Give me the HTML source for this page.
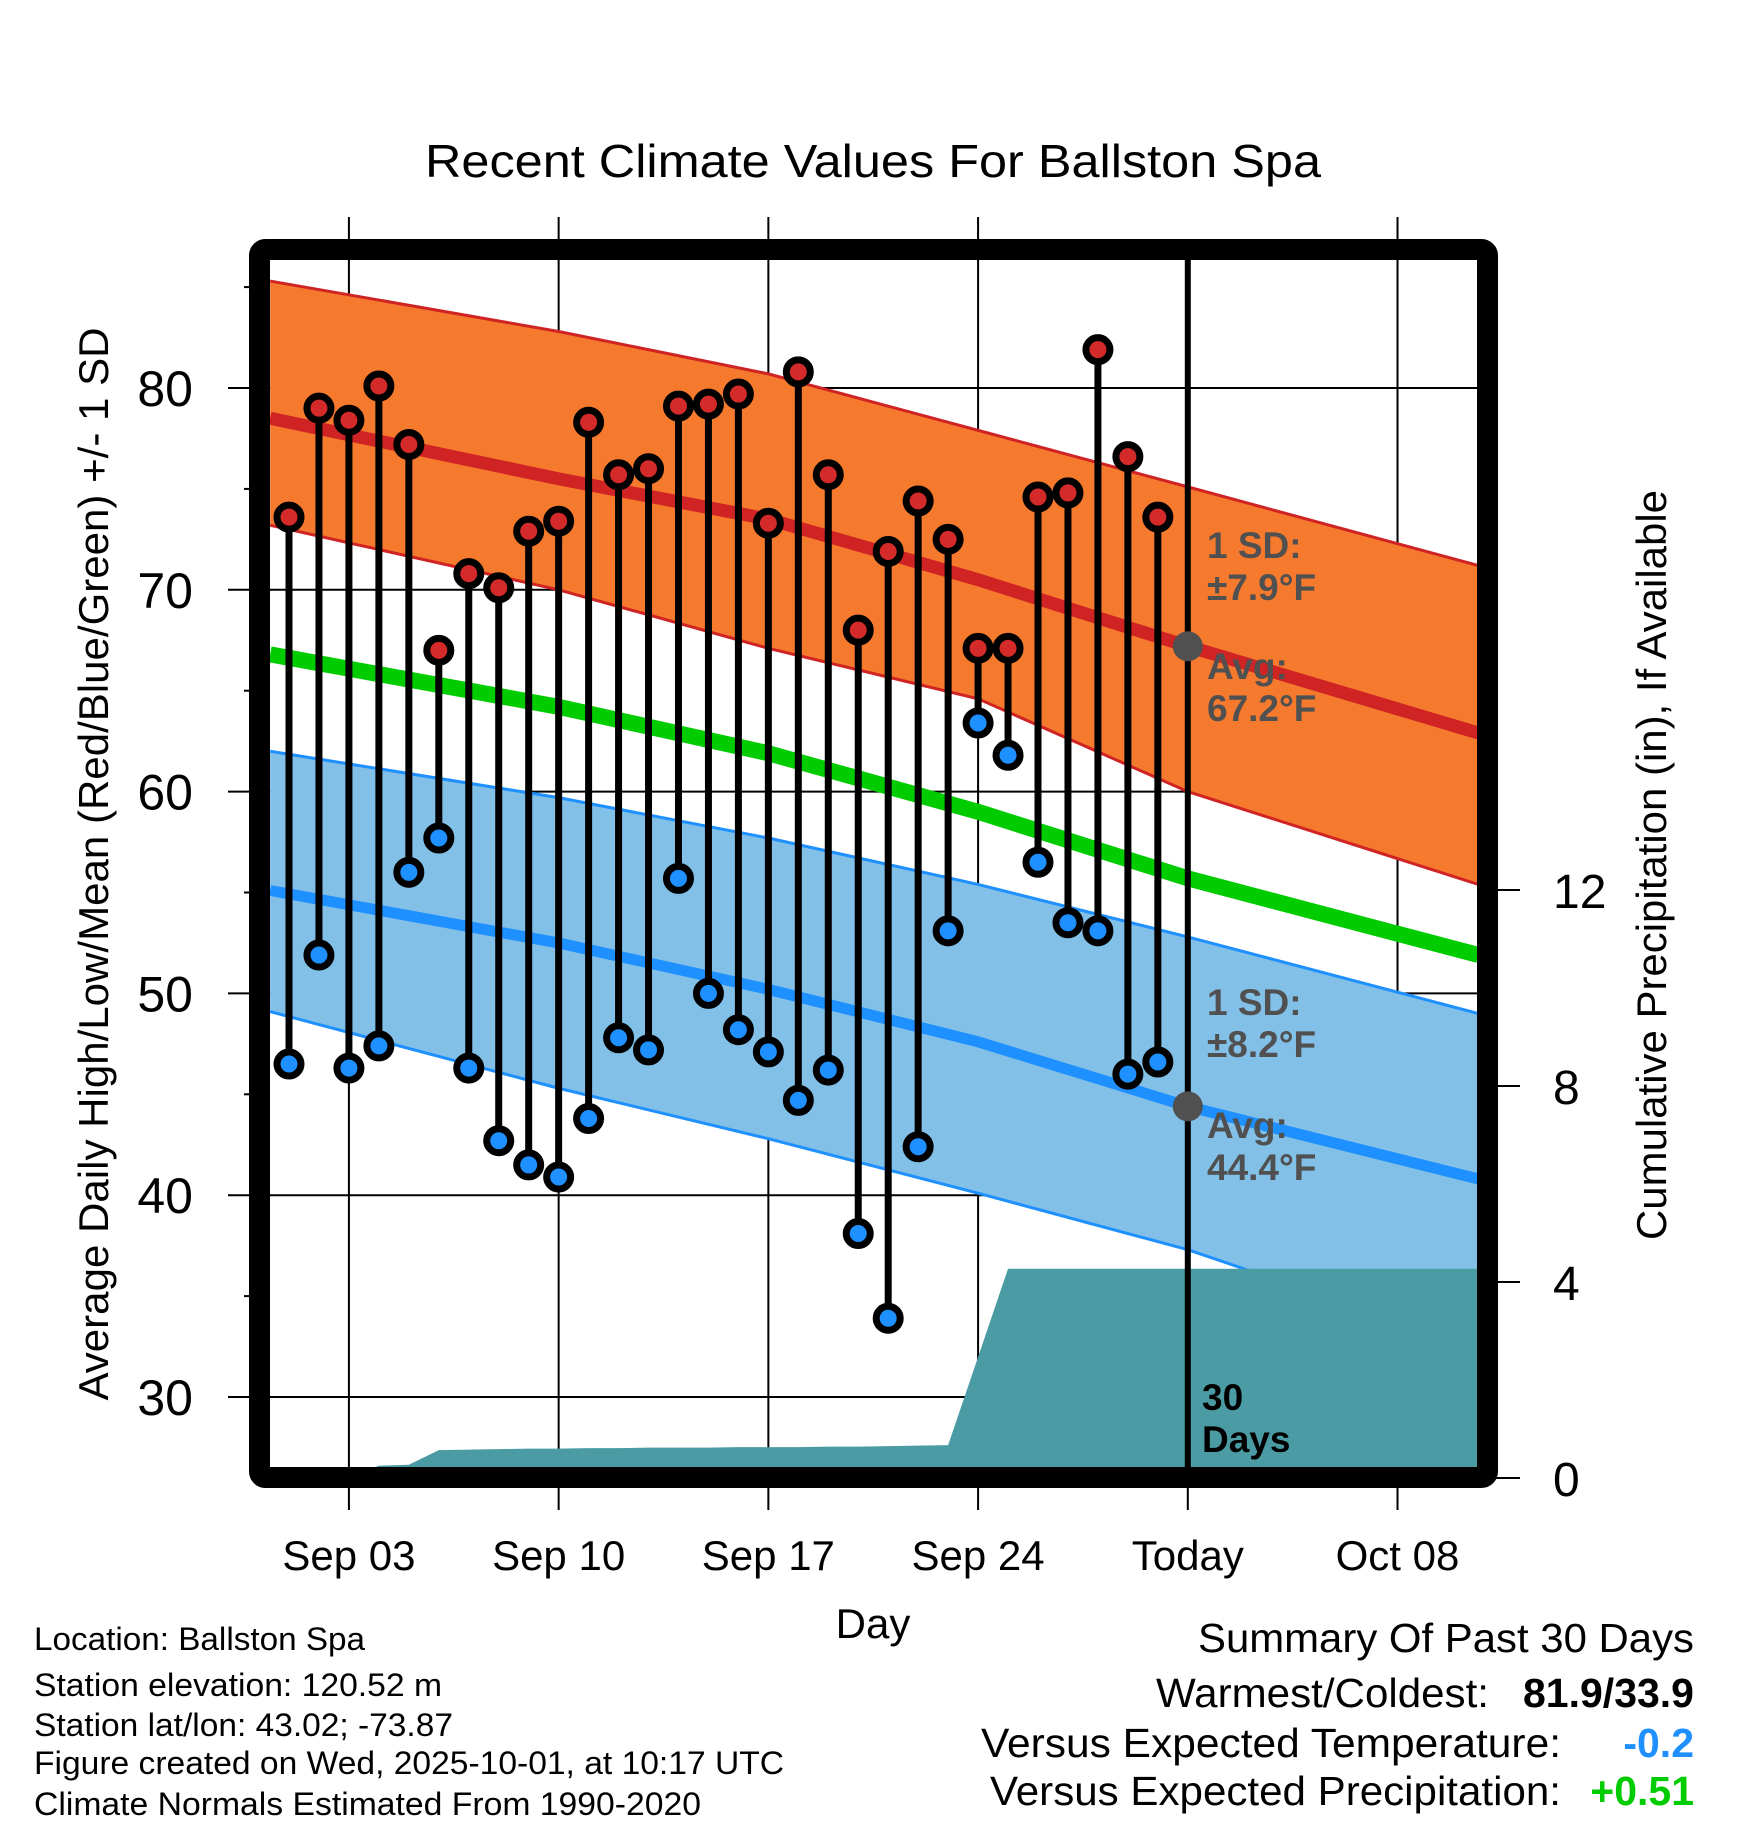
<!DOCTYPE html>
<html><head><meta charset="utf-8"><title>Recent Climate Values For Ballston Spa</title>
<style>html,body{margin:0;padding:0;background:#fff}svg{display:block}text{font-family:"Liberation Sans",Arial,sans-serif}</style>
</head><body>
<svg id="chart" xmlns="http://www.w3.org/2000/svg" width="1748" height="1828" viewBox="0 0 1748 1828">
<defs><clipPath id="plotclip"><rect x="270" y="260" width="1208" height="1208"/></clipPath></defs>
<g id="grid"></g>
<g id="plot" clip-path="url(#plotclip)"></g>
<g id="axes"></g>
<rect x="259.5" y="249.5" width="1228" height="1228" rx="6" fill="none" stroke="#000" stroke-width="21"/>
<text x="873" y="177" font-size="46" text-anchor="middle" textLength="896" lengthAdjust="spacingAndGlyphs">Recent Climate Values For Ballston Spa</text>
<text x="873" y="1638" font-size="42" text-anchor="middle">Day</text>
<text transform="translate(108,864) rotate(-90)" font-size="42" text-anchor="middle" textLength="1073" lengthAdjust="spacingAndGlyphs">Average Daily High/Low/Mean (Red/Blue/Green) +/- 1 SD</text>
<text transform="translate(1666,865) rotate(-90)" font-size="42" text-anchor="middle" textLength="750" lengthAdjust="spacingAndGlyphs">Cumulative Precipitation (in), If Available</text>
<g font-size="32">
<text x="34" y="1650" textLength="331" lengthAdjust="spacingAndGlyphs">Location: Ballston Spa</text>
<text x="34" y="1696" textLength="408" lengthAdjust="spacingAndGlyphs">Station elevation: 120.52 m</text>
<text x="34" y="1736" textLength="419" lengthAdjust="spacingAndGlyphs">Station lat/lon: 43.02; -73.87</text>
<text x="34" y="1774" textLength="750" lengthAdjust="spacingAndGlyphs">Figure created on Wed, 2025-10-01, at 10:17 UTC</text>
<text x="34" y="1815" textLength="667" lengthAdjust="spacingAndGlyphs">Climate Normals Estimated From 1990-2020</text>
</g>
<g font-size="41">
<text x="1694" y="1652" text-anchor="end" textLength="496" lengthAdjust="spacingAndGlyphs">Summary Of Past 30 Days</text>
<text x="1489" y="1707" text-anchor="end" textLength="333" lengthAdjust="spacingAndGlyphs">Warmest/Coldest:</text>
<text x="1694" y="1707" text-anchor="end" font-weight="bold">81.9/33.9</text>
<text x="1561" y="1757" text-anchor="end" textLength="580" lengthAdjust="spacingAndGlyphs">Versus Expected Temperature:</text>
<text x="1694" y="1757" text-anchor="end" font-weight="bold" fill="#1E90FF">-0.2</text>
<text x="1561" y="1805" text-anchor="end" textLength="571" lengthAdjust="spacingAndGlyphs">Versus Expected Precipitation:</text>
<text x="1694" y="1805" text-anchor="end" font-weight="bold" fill="#00CC00">+0.51</text>
</g>
</svg>
<script>
// ---- data ----
var days = [1,2,3,4,5,6,7,8,9,10,11,12,13,14,15,16,17,18,19,20,21,22,23,24,25,26,27,28,29,30];
var highs = [73.6,79.0,78.4,80.1,77.2,67.0,70.8,70.1,72.9,73.4,78.3,75.7,76.0,79.1,79.2,79.7,73.3,80.8,75.7,68.0,71.9,74.4,72.5,67.1,67.1,74.6,74.8,81.9,76.6,73.6];
var lows = [46.5,51.9,46.3,47.4,56.0,57.7,46.3,42.7,41.5,40.9,43.8,47.8,47.2,55.7,50.0,48.2,47.1,44.7,46.2,38.1,33.9,42.4,53.1,63.4,61.8,56.5,53.5,53.1,46.0,46.6];
var precipCum = [0,0,0,0.25,0.27,0.57,0.58,0.59,0.6,0.6,0.61,0.61,0.62,0.62,0.62,0.63,0.63,0.63,0.64,0.64,0.65,0.66,0.67,2.47,4.27,4.27,4.27,4.27,4.27,4.27];
var normDays = [0.37,10,17,24,31,40.7];
var normHigh = [78.5,75.5,73.5,70.5,67.2,62.9];
var highUpper = [85.3,82.8,80.7,77.9,75.1,71.2];
var highLower = [73.2,70.0,67.1,64.6,60.0,55.4];
var normMean = [66.8,64.2,61.9,59.0,55.7,51.9];
var normLow = [55.1,52.5,50.2,47.6,44.4,40.8];
var lowUpper = [62.0,59.7,57.7,55.4,52.8,49.0];
var lowLower = [49.1,45.3,42.8,40.1,37.3,32.4];
var tempTicks = [30,40,50,60,70,80];
var tempMinor = [35,45,55,65,75,85];
var precipTicks = [0,4,8,12];
var dateTickDays = [3,10,17,24,31,38];
var dateTickLabels = ["Sep 03","Sep 10","Sep 17","Sep 24","Today","Oct 08"];
var todayDay = 31;
// ---- scales ----
function xs(d){return 289+(d-1)*29.96;}
function ys(t){return 388+(80-t)*20.18;}
function yp(p){return 1478-p*49;}
var NS="http://www.w3.org/2000/svg";
function mk(parent,tag,attrs){var e=document.createElementNS(NS,tag);for(var k in attrs)e.setAttribute(k,attrs[k]);parent.appendChild(e);return e;}
var grid=document.getElementById('grid'),plot=document.getElementById('plot'),axes=document.getElementById('axes');
tempTicks.forEach(function(t){var l=mk(grid,'line',{x1:228,x2:1478,y1:ys(t),y2:ys(t),stroke:'#000','stroke-width':2});


var tx=mk(axes,'text',{x:193,y:ys(t)+18,'font-size':50,'text-anchor':'end'});tx.textContent=t;

});
tempMinor.forEach(function(t){var l=mk(axes,'line',{x1:244,x2:255,y1:ys(t),y2:ys(t),stroke:'#000','stroke-width':2});

});
dateTickDays.forEach(function(d,i){var x=xs(d);
if(d!==todayDay){var l=mk(grid,'line',{x1:x,x2:x,y1:217,y2:1510,stroke:'#000','stroke-width':2});

}
else{var l2=mk(axes,'line',{x1:x,x2:x,y1:1480,y2:1510,stroke:'#000','stroke-width':2});

}
var tx=mk(axes,'text',{x:x,y:1570,'font-size':42,'text-anchor':'middle'});tx.textContent=dateTickLabels[i];

});
precipTicks.forEach(function(p){var l=mk(axes,'line',{x1:1490,x2:1520,y1:yp(p),y2:yp(p),stroke:'#000','stroke-width':2});


var tx=mk(axes,'text',{x:1553,y:yp(p)+18,'font-size':48});tx.textContent=p;

});
function line(vals){return normDays.map(function(d,i){return xs(d)+','+ys(vals[i]);});}
function band(upv,lov,fill,edge,name){
var up=line(upv),lo=line(lov);
var p=mk(plot,'polygon',{points:up.concat(lo.slice().reverse()).join(' '),fill:fill});


[up,lo].forEach(function(pts){var e=mk(plot,'polyline',{points:pts.join(' '),fill:'none',stroke:edge,'stroke-width':3});

});}
band(highUpper,highLower,'#F57A2E','#D02424','high');
band(lowUpper,lowLower,'#82C0E8','#1E90FF','low');
var ml=mk(plot,'polyline',{points:line(normHigh).join(' '),fill:'none',stroke:'#D02424','stroke-width':13});


var mm=mk(plot,'polyline',{points:line(normMean).join(' '),fill:'none',stroke:'#00CC00','stroke-width':16});


var mlo=mk(plot,'polyline',{points:line(normLow).join(' '),fill:'none',stroke:'#1E90FF','stroke-width':11});


var pp=[xs(days[0])+','+yp(0)];
days.forEach(function(d,i){pp.push(xs(d)+','+yp(precipCum[i]));});
pp.push('1480,'+yp(precipCum[precipCum.length-1]));pp.push('1480,1480');pp.push(xs(days[0])+',1480');
var pa=mk(plot,'polygon',{points:pp.join(' '),fill:'#4A9BA4'});


var tl=mk(plot,'line',{x1:xs(todayDay),x2:xs(todayDay),y1:260,y2:1470,stroke:'#000','stroke-width':6});


[normHigh,normLow].forEach(function(v){var c=mk(plot,'circle',{cx:xs(todayDay),cy:ys(v[4]),r:15,fill:'#505050'});

});
days.forEach(function(d,i){var x=xs(d);
var s=mk(plot,'line',{x1:x,x2:x,y1:ys(highs[i]),y2:ys(lows[i]),stroke:'#000','stroke-width':7});

});
days.forEach(function(d,i){var x=xs(d);
var h=mk(plot,'circle',{cx:x,cy:ys(highs[i]),r:12,fill:'#D42A2A',stroke:'#000','stroke-width':7});


var l=mk(plot,'circle',{cx:x,cy:ys(lows[i]),r:12,fill:'#1E90FF',stroke:'#000','stroke-width':7});

});
function ann(x,y,lines,color,name){var t=mk(plot,'text',{x:x,y:y,'font-size':37,'font-weight':'bold',fill:color});


lines.forEach(function(s,i){var ts=mk(t,'tspan',{x:x,dy:i?42:0});ts.textContent=s;});}
ann(1207,558,['1 SD:','\u00B17.9\u00B0F'],'#505050','high-sd-label');
ann(1207,679,['Avg:','67.2\u00B0F'],'#505050','high-avg-label');
ann(1207,1015,['1 SD:','\u00B18.2\u00B0F'],'#505050','low-sd-label');
ann(1207,1138,['Avg:','44.4\u00B0F'],'#505050','low-avg-label');
ann(1202,1410,['30','Days'],'#000','days-label');
</script>
</body></html>
